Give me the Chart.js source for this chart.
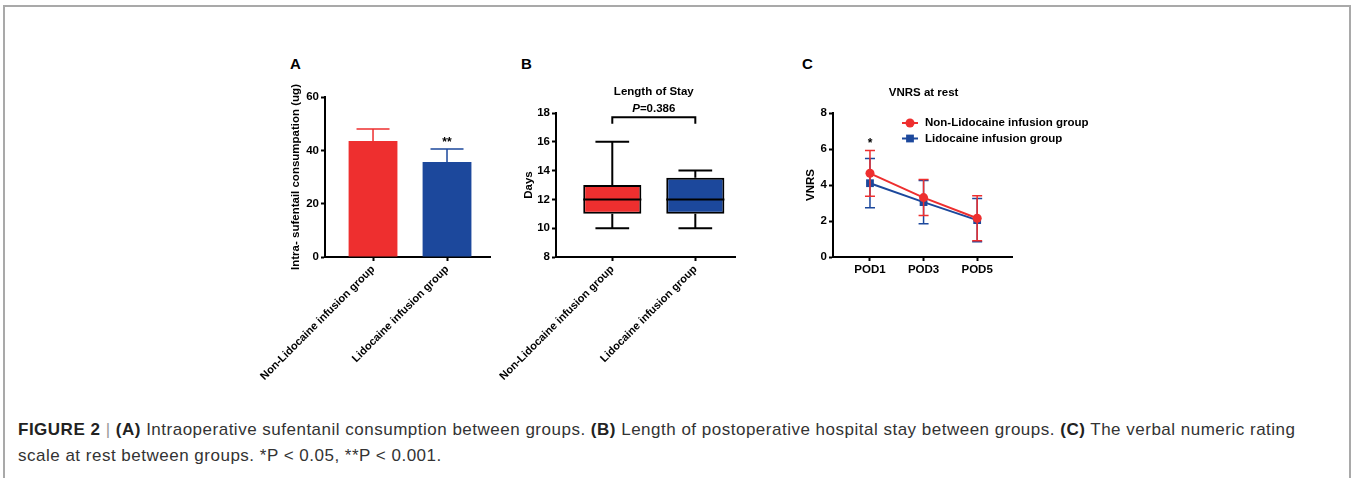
<!DOCTYPE html>
<html>
<head>
<meta charset="utf-8">
<script src="https://cdn.jsdelivr.net/npm/chart.js@4.4.1/dist/chart.umd.min.js"></script>
<style>
  html, body { margin: 0; padding: 0; background: #fff; }
  body { width: 1352px; height: 478px; position: relative; overflow: hidden;
         font-family: "Liberation Sans", Arial, Helvetica, sans-serif; }
  #frame { position: absolute; left: 3px; top: 5px; width: 1344px; height: 520px;
           border: 2px solid #a9a9a9; border-bottom: none; }
  canvas { position: absolute; }
  .letter { position: absolute; font-weight: bold; font-size: 15px; line-height: 15px; color: #000; }
  #caption { position: absolute; left: 18px; top: 417px; width: 1320px; font-size: 17px;
             letter-spacing: 0.5px; line-height: 25.5px; color: #333; }
  #caption b { color: #222; }
  #caption .sep { color: #999; }
</style>
</head>
<body>
<div id="frame"></div>
<div class="letter" style="left:290px;top:56px">A</div>
<div class="letter" style="left:521px;top:56px">B</div>
<div class="letter" style="left:802px;top:56px">C</div>

<canvas id="chartA" width="255" height="330" style="left:250px;top:60px"></canvas>
<canvas id="chartB" width="285" height="330" style="left:485px;top:60px"></canvas>
<canvas id="chartC" width="320" height="250" style="left:790px;top:60px"></canvas>

<div id="caption"><b>FIGURE 2</b> <span class="sep">|</span> <b>(A)</b> Intraoperative sufentanil consumption between groups. <b>(B)</b> Length of postoperative hospital stay between groups. <b>(C)</b> The verbal numeric rating<br>scale at rest between groups. *P &lt; 0.05, **P &lt; 0.001.</div>

<script>
// data
const groups = ["Non-Lidocaine infusion group", "Lidocaine infusion group"];
const groupColors = ["#EE2F2F", "#1C489C"];

// A - intraoperative sufentanil (mean, SD)
const sufentanilMean = [43.5, 35.6];
const sufentanilSD = [4.5, 4.9];
const sufentanilMarks = ["", "**"];

// B - length of stay (box plot)
const stayMin = [10, 10];
const stayQ1 = [11, 11];
const stayMedian = [12, 12];
const stayQ3 = [13, 13.5];
const stayMax = [16, 14];
const stayP = "0.386";

// C - VNRS at rest
const days = ["POD1", "POD3", "POD5"];
const vnrsNonLido = [4.65, 3.3, 2.15];
const vnrsNonLidoSD = [1.27, 1.0, 1.25];
const vnrsLido = [4.1, 3.05, 2.05];
const vnrsLidoSD = [1.37, 1.2, 1.2];
const vnrsMarks = ["*", "", ""];

Chart.defaults.font.family = '"Liberation Sans", Arial, Helvetica, sans-serif';
Chart.defaults.color = "#000";
Chart.defaults.animation = false;

const FONT = (size) => ({ size: size, weight: "bold" });

// y axis with fixed width so the plot area lands where the figure has it
function yAxis(min, max, step, title, width, titlePad) {
  return {
    min: min, max: max,
    ticks: { stepSize: step, font: FONT(11.5), padding: 2, color: "#000" },
    grid: { display: true, drawOnChartArea: false, drawTicks: true, tickLength: 4, tickWidth: 2, color: "#000" },
    border: { display: true, color: "#000", width: 2 },
    title: { display: true, text: title, font: FONT(11.5), color: "#000", padding: { top: titlePad, bottom: 0 } },
    afterFit: (s) => { s.width = width; }
  };
}

// x axis: linear so the category spacing can match the figure
function xAxis(min, max, labels, height, rotation, fontSize) {
  return {
    type: "linear", min: min, max: max, offset: false,
    afterBuildTicks: (s) => { s.ticks = labels.map((_, i) => ({ value: i })); },
    ticks: { callback: (v) => labels[v], autoSkip: false, minRotation: rotation, maxRotation: rotation,
             font: FONT(fontSize), padding: 2, color: "#000" },
    grid: { display: true, offset: false, drawOnChartArea: false, drawTicks: true, tickLength: 4, tickWidth: 2, color: "#000" },
    border: { display: true, color: "#000", width: 2 },
    afterFit: (s) => { s.height = height; s.paddingLeft = 0; s.paddingRight = 0; }
  };
}

// error bars (drawn under each dataset)
const errorBars = {
  id: "errorBars",
  beforeDatasetDraw(chart, args) {
    const ds = chart.data.datasets[args.index];
    if (!ds.errors) return;
    const y = chart.scales.y, ctx = chart.ctx;
    ctx.save();
    ctx.lineWidth = 1.5;
    args.meta.data.forEach((el, i) => {
      const v = ds.data[i].y, e = ds.errors[i];
      const top = y.getPixelForValue(v + e);
      const bot = y.getPixelForValue(ds.upperOnly ? v : v - e);
      const half = ds.capWidth / 2;
      ctx.strokeStyle = Array.isArray(ds.backgroundColor) ? ds.backgroundColor[i] : ds.borderColor;
      ctx.beginPath();
      ctx.moveTo(el.x, bot); ctx.lineTo(el.x, top);
      ctx.moveTo(el.x - half, top); ctx.lineTo(el.x + half, top);
      if (!ds.upperOnly) { ctx.moveTo(el.x - half, bot); ctx.lineTo(el.x + half, bot); }
      ctx.stroke();
    });
    ctx.restore();
  },
  afterDatasetsDraw(chart) {
    // significance stars above the error bars
    const y = chart.scales.y, ctx = chart.ctx;
    chart.data.datasets.forEach((ds, di) => {
      if (!ds.marks) return;
      const meta = chart.getDatasetMeta(di);
      ctx.save();
      ctx.font = 'bold 12px "Liberation Sans", Arial, sans-serif';
      ctx.fillStyle = "#000";
      ctx.textAlign = "center";
      ctx.textBaseline = "alphabetic";
      meta.data.forEach((el, i) => {
        if (!ds.marks[i]) return;
        const top = y.getPixelForValue(ds.data[i].y + ds.errors[i]);
        ctx.fillText(ds.marks[i], el.x, top - 3);
      });
      ctx.restore();
    });
  }
};

// title centred over the categories
const midTitle = {
  id: "midTitle",
  afterDraw(chart, args, opts) {
    if (!opts.text) return;
    const x = chart.scales.x, ctx = chart.ctx;
    const cx = (x.getPixelForValue(0) + x.getPixelForValue(opts.count - 1)) / 2;
    ctx.save();
    ctx.font = 'bold 11.5px "Liberation Sans", Arial, sans-serif';
    ctx.fillStyle = "#000";
    ctx.textAlign = "center";
    ctx.textBaseline = "middle";
    ctx.fillText(opts.text, cx, chart.chartArea.top - opts.above);
    ctx.restore();
  }
};

// ---------- A ----------
new Chart(document.getElementById("chartA"), {
  type: "bar",
  data: {
    datasets: [{
      data: sufentanilMean.map((v, i) => ({ x: i, y: v })),
      errors: sufentanilSD,
      marks: sufentanilMarks,
      upperOnly: true,
      capWidth: 33,
      backgroundColor: groupColors,
      borderColor: groupColors,
      borderWidth: 0,
      categoryPercentage: 1,
      barPercentage: 0.66
    }]
  },
  options: {
    responsive: false,
    layout: { padding: { left: 35, top: 37, right: 15, bottom: 0 } },
    plugins: { legend: { display: false }, tooltip: { enabled: false } },
    scales: {
      x: xAxis(-0.649, 1.581, groups, 133, 45, 11),
      y: yAxis(0, 60, 20, "Intra- sufentail consumpation (ug)", 40, 4)
    }
  },
  plugins: [errorBars]
});

// ---------- B ----------
const boxPlot = {
  id: "boxPlot",
  beforeDatasetDraw(chart, args) {
    const ds = chart.data.datasets[args.index];
    const y = chart.scales.y, ctx = chart.ctx;
    ctx.save();
    ctx.strokeStyle = "#000";
    ctx.lineWidth = 2;
    args.meta.data.forEach((el, i) => {
      const half = el.width * 0.29;
      const lo = y.getPixelForValue(ds.whiskerLow[i]), hi = y.getPixelForValue(ds.whiskerHigh[i]);
      const q1 = y.getPixelForValue(ds.data[i].y[0]), q3 = y.getPixelForValue(ds.data[i].y[1]);
      ctx.beginPath();
      ctx.moveTo(el.x, q3); ctx.lineTo(el.x, hi);
      ctx.moveTo(el.x - half, hi); ctx.lineTo(el.x + half, hi);
      ctx.moveTo(el.x, q1); ctx.lineTo(el.x, lo);
      ctx.moveTo(el.x - half, lo); ctx.lineTo(el.x + half, lo);
      ctx.stroke();
    });
    ctx.restore();
  },
  afterDatasetDraw(chart, args) {
    const ds = chart.data.datasets[args.index];
    const y = chart.scales.y, ctx = chart.ctx;
    ctx.save();
    ctx.strokeStyle = "#000";
    ctx.lineWidth = 2;
    args.meta.data.forEach((el, i) => {
      const m = y.getPixelForValue(ds.medians[i]);
      ctx.beginPath();
      ctx.moveTo(el.x - el.width / 2, m); ctx.lineTo(el.x + el.width / 2, m);
      ctx.stroke();
    });
    ctx.restore();
  },
  afterDraw(chart) {
    // comparison bracket with p value
    const x = chart.scales.x, y = chart.scales.y, ctx = chart.ctx;
    const x0 = x.getPixelForValue(0), x1 = x.getPixelForValue(1);
    const yb = y.getPixelForValue(17.7), ye = y.getPixelForValue(17.25);
    ctx.save();
    ctx.strokeStyle = "#000";
    ctx.lineWidth = 2;
    ctx.beginPath();
    ctx.moveTo(x0, ye); ctx.lineTo(x0, yb); ctx.lineTo(x1, yb); ctx.lineTo(x1, ye);
    ctx.stroke();
    const fI = 'italic bold 11.5px "Liberation Sans", Arial, sans-serif';
    const fB = 'bold 11.5px "Liberation Sans", Arial, sans-serif';
    ctx.font = fI; const wP = ctx.measureText("P").width;
    ctx.font = fB; const wV = ctx.measureText("=" + stayP).width;
    const sx = (x0 + x1) / 2 - (wP + wV) / 2, ty = chart.chartArea.top - 4;
    ctx.fillStyle = "#000";
    ctx.textBaseline = "middle";
    ctx.textAlign = "left";
    ctx.font = fI; ctx.fillText("P", sx, ty);
    ctx.font = fB; ctx.fillText("=" + stayP, sx + wP, ty);
    ctx.restore();
  }
};

new Chart(document.getElementById("chartB"), {
  type: "bar",
  data: {
    datasets: [{
      data: stayQ1.map((q, i) => ({ x: i, y: [q, stayQ3[i]] })),
      whiskerLow: stayMin,
      whiskerHigh: stayMax,
      medians: stayMedian,
      backgroundColor: groupColors,
      borderColor: "#000",
      borderWidth: 2,
      borderSkipped: false,
      categoryPercentage: 1,
      barPercentage: 0.7
    }]
  },
  options: {
    responsive: false,
    layout: { padding: { left: 35, top: 53, right: 35, bottom: 0 } },
    plugins: { legend: { display: false }, tooltip: { enabled: false },
               midTitle: { text: "Length of Stay", count: groups.length, above: 21 } },
    scales: {
      x: xAxis(-0.678, 1.478, groups, 133, 45, 11),
      y: yAxis(8, 18, 2, "Days", 36, 2)
    }
  },
  plugins: [boxPlot, midTitle]
});

// ---------- C ----------
const vnrsLegend = {
  id: "vnrsLegend",
  afterDraw(chart) {
    const ctx = chart.ctx, a = chart.chartArea;
    chart.data.datasets.forEach((ds, i) => {
      const x = a.left + 69, y = a.top + 10 + i * 15.5;
      ctx.save();
      ctx.strokeStyle = ds.borderColor;
      ctx.fillStyle = ds.borderColor;
      ctx.lineWidth = 2;
      ctx.beginPath(); ctx.moveTo(x, y); ctx.lineTo(x + 16, y); ctx.stroke();
      if (ds.pointStyle === "rect") {
        const s = ds.pointRadius * Math.SQRT1_2;
        ctx.fillRect(x + 8 - s, y - s, 2 * s, 2 * s);
      } else {
        ctx.beginPath(); ctx.arc(x + 8, y, ds.pointRadius, 0, Math.PI * 2); ctx.fill();
      }
      ctx.fillStyle = "#000";
      ctx.font = 'bold 11.5px "Liberation Sans", Arial, sans-serif';
      ctx.textBaseline = "middle";
      ctx.fillText(ds.label, x + 23, y);
      ctx.restore();
    });
  }
};

new Chart(document.getElementById("chartC"), {
  type: "line",
  data: {
    datasets: [
      {
        label: "Non-Lidocaine infusion group",
        data: vnrsNonLido.map((v, i) => ({ x: i, y: v })),
        errors: vnrsNonLidoSD,
        marks: vnrsMarks,
        capWidth: 10,
        borderColor: groupColors[0],
        backgroundColor: groupColors[0],
        pointBackgroundColor: groupColors[0],
        pointBorderWidth: 0,
        pointStyle: "circle",
        pointRadius: 4.5,
        borderWidth: 2,
        tension: 0,
        clip: false
      },
      {
        label: "Lidocaine infusion group",
        data: vnrsLido.map((v, i) => ({ x: i, y: v })),
        errors: vnrsLidoSD,
        capWidth: 10,
        borderColor: groupColors[1],
        backgroundColor: groupColors[1],
        pointBackgroundColor: groupColors[1],
        pointBorderWidth: 0,
        pointStyle: "rect",
        pointRadius: 5.5,
        borderWidth: 2,
        tension: 0,
        clip: false
      }
    ]
  },
  options: {
    responsive: false,
    layout: { padding: { left: 10, top: 53, right: 98, bottom: 0 } },
    plugins: { legend: { display: false }, tooltip: { enabled: false },
               midTitle: { text: "VNRS at rest", count: days.length, above: 20 } },
    scales: {
      x: xAxis(-0.69, 2.65, days, 53, 0, 11.5),
      y: yAxis(0, 8, 2, "VNRS", 33, 4)
    }
  },
  plugins: [errorBars, midTitle, vnrsLegend]
});
</script>
</body>
</html>
